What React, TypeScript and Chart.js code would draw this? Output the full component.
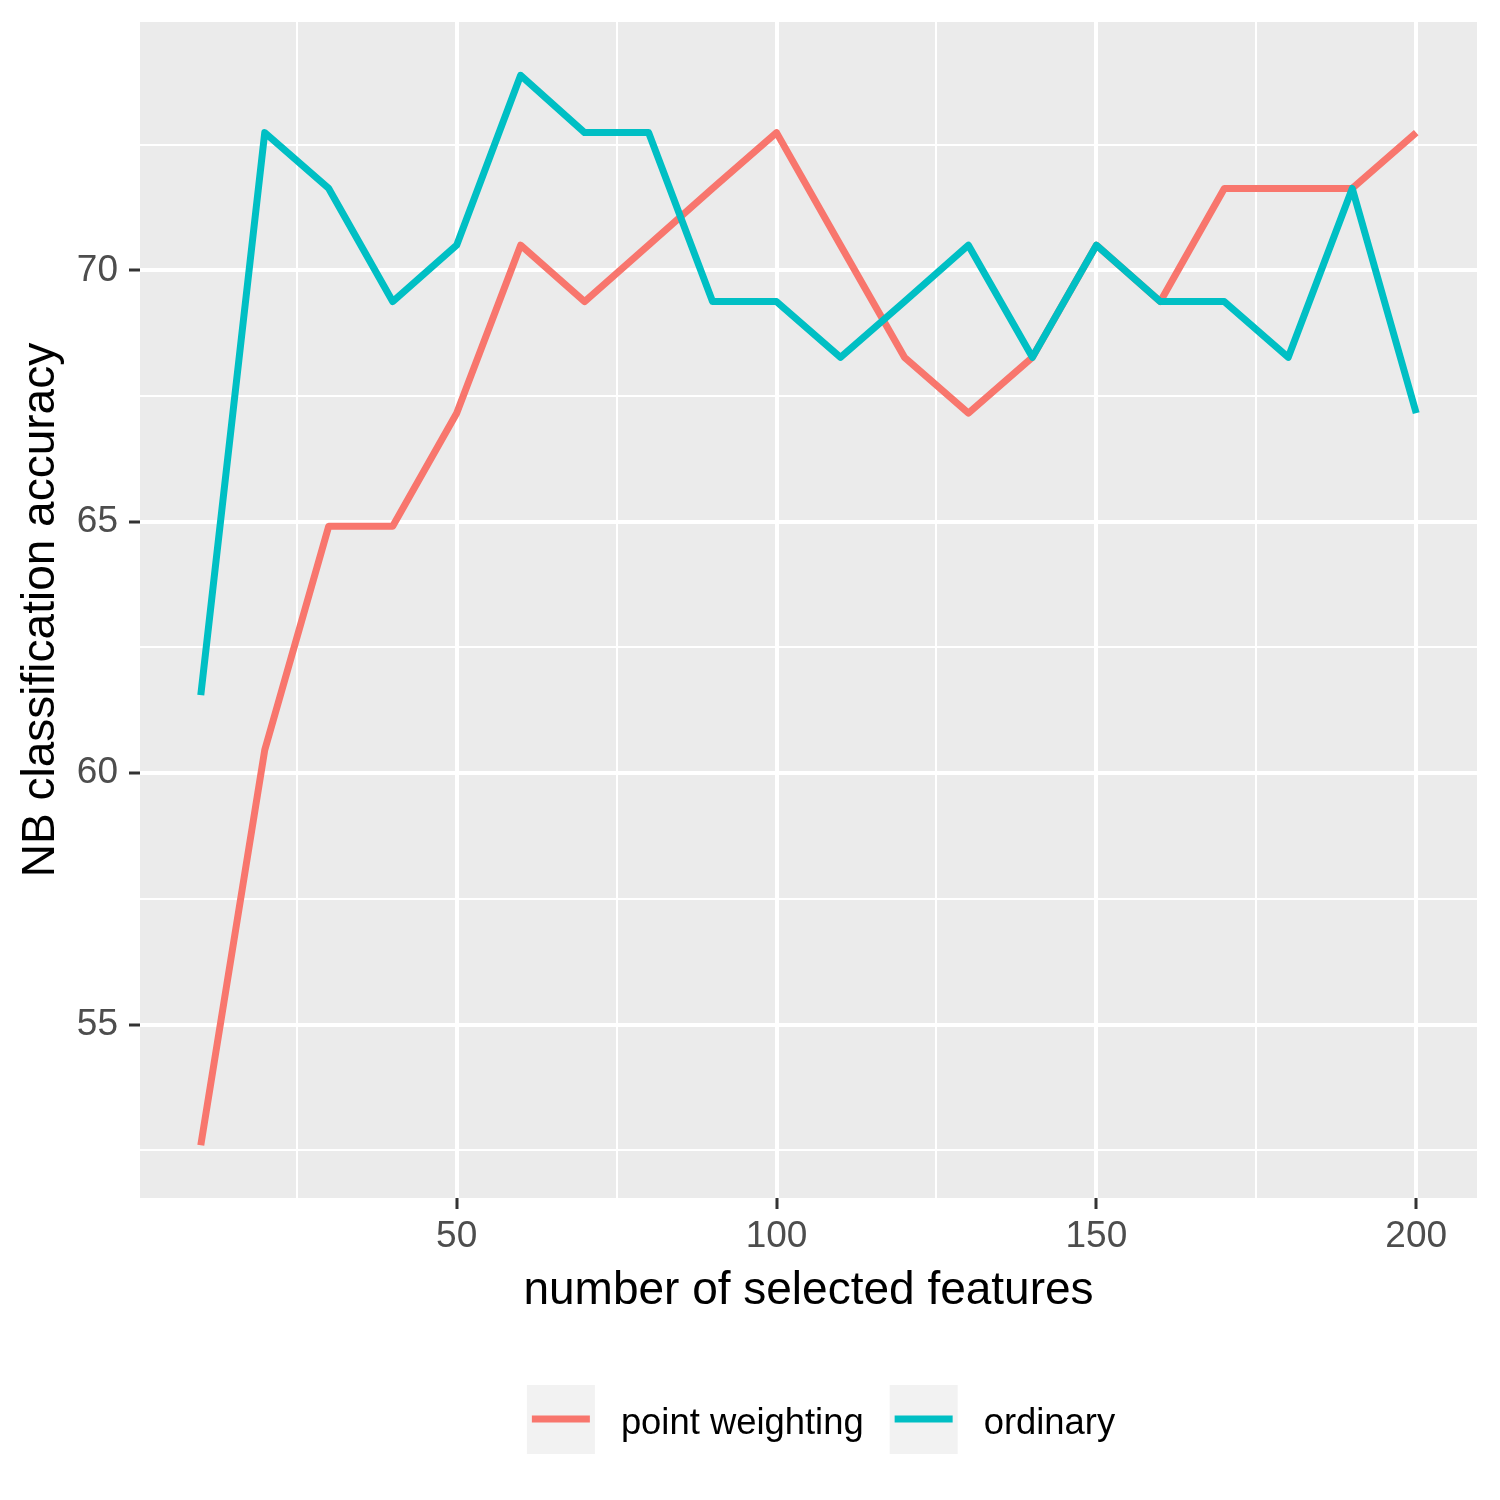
import React, { useEffect, useRef } from "react";
import { Chart, registerables } from "chart.js";

Chart.register(...registerables);

const features = [10, 20, 30, 40, 50, 60, 70, 80, 90, 100, 110, 120, 130, 140, 150, 160, 170, 180, 190, 200];
const pointWeighting = [52.6, 60.46, 64.91, 64.91, 67.16, 70.5, 69.38, 70.5, 71.63, 72.74, 70.5, 68.27, 67.16, 68.27, 70.5, 69.38, 71.63, 71.63, 71.63, 72.74];
const ordinary = [61.55, 72.74, 71.63, 69.38, 70.5, 73.88, 72.74, 72.74, 69.38, 69.38, 68.27, 69.38, 70.5, 68.27, 70.5, 69.38, 69.38, 68.27, 71.63, 67.16];

const seriesLabels = ["point weighting", "ordinary"];
const seriesColors = ["#F8766D", "#00BFC4"];

const xMajorTicks = [50, 100, 150, 200];
const xMinorTicks = [25, 75, 125, 175];
const yMajorTicks = [55, 60, 65, 70];
const yMinorTicks = [52.5, 57.5, 62.5, 67.5, 72.5];

const xTitle = "number of selected features";
const yTitle = "NB classification accuracy";

const FONT = "'Liberation Sans', Arial, sans-serif";

const panelBg = {
  id: "panelBg",
  beforeDraw(chart: any) {
    const { ctx, chartArea } = chart;
    ctx.save();
    ctx.fillStyle = "#EBEBEB";
    ctx.fillRect(chartArea.left, chartArea.top, chartArea.right - chartArea.left, chartArea.bottom - chartArea.top);
    ctx.restore();
  },
};

const ggLegend = {
  id: "ggLegend",
  afterDraw(chart: any) {
    const { ctx } = chart;
    const ds = chart.data.datasets;
    const key = 68;
    const gap = 26;
    const top = 1385;
    ctx.save();
    ctx.font = `36.4px ${FONT}`;
    const widths = ds.map((d: any) => ctx.measureText(d.label).width);
    let total = 0;
    widths.forEach((w: number, i: number) => {
      total += key + gap + w + (i < widths.length - 1 ? gap : 0);
    });
    let x = 821 - total / 2;
    ds.forEach((d: any, i: number) => {
      ctx.fillStyle = "#F2F2F2";
      ctx.fillRect(x, top, key, key + 1);
      ctx.strokeStyle = d.borderColor;
      ctx.lineWidth = 7;
      ctx.lineCap = "butt";
      ctx.beginPath();
      ctx.moveTo(x + 5, top + key / 2);
      ctx.lineTo(x + key - 5, top + key / 2);
      ctx.stroke();
      ctx.fillStyle = "#000000";
      ctx.textAlign = "left";
      ctx.textBaseline = "alphabetic";
      ctx.fillText(d.label, x + key + gap, 1433.5);
      x += key + gap + widths[i] + gap;
    });
    ctx.restore();
  },
};

export default function App() {
  const ref = useRef<HTMLCanvasElement | null>(null);

  useEffect(() => {
    document.body.style.margin = "0";
    const canvas = ref.current;
    if (!canvas) return;
    const xTicksAll = [...xMinorTicks, ...xMajorTicks].sort((a, b) => a - b);
    const yTicksAll = [...yMinorTicks, ...yMajorTicks].sort((a, b) => a - b);

    const chart = new Chart(canvas, {
      type: "line",
      data: {
        datasets: [
          {
            label: seriesLabels[0],
            data: features.map((f, i) => ({ x: f, y: pointWeighting[i] })),
            borderColor: seriesColors[0],
            backgroundColor: seriesColors[0],
            borderWidth: 7,
            pointRadius: 0,
            tension: 0,
            borderJoinStyle: "round",
            borderCapStyle: "butt",
            fill: false,
            order: 1,
          },
          {
            label: seriesLabels[1],
            data: features.map((f, i) => ({ x: f, y: ordinary[i] })),
            borderColor: seriesColors[1],
            backgroundColor: seriesColors[1],
            borderWidth: 7,
            pointRadius: 0,
            tension: 0,
            borderJoinStyle: "round",
            borderCapStyle: "butt",
            fill: false,
            order: 0,
          },
        ],
      },
      options: {
        animation: false,
        responsive: false,
        devicePixelRatio: 1,
        layout: { padding: { top: 22, right: 23, left: 0, bottom: 0 } },
        plugins: {
          legend: { display: false },
          tooltip: { enabled: false },
        },
        scales: {
          x: {
            type: "linear",
            position: "bottom",
            min: 0.5,
            max: 209.5,
            border: { display: false },
            afterBuildTicks: (scale: any) => {
              scale.ticks = xTicksAll.map((v) => ({ value: v }));
            },
            afterFit: (scale: any) => {
              scale.height = 302;
              scale.paddingLeft = 0;
              scale.paddingRight = 0;
              scale.paddingTop = 0;
              scale.paddingBottom = 0;
            },
            grid: {
              color: "#FFFFFF",
              lineWidth: (c: any) => (xMajorTicks.includes(c.tick?.value) ? 4 : 2),
              tickColor: (c: any) => (xMajorTicks.includes(c.tick?.value) ? "#333333" : "rgba(0,0,0,0)"),
              tickWidth: 3,
              tickLength: 11,
              drawTicks: true,
            },
            ticks: {
              autoSkip: false,
              maxRotation: 0,
              minRotation: 0,
              padding: 6,
              color: "#4D4D4D",
              font: { family: FONT, size: 37 },
              callback: (v: any) => (xMajorTicks.includes(v) ? String(v) : ""),
            },
            title: {
              display: true,
              text: xTitle,
              color: "#000000",
              font: { family: FONT, size: 46, lineHeight: 1.2 },
              padding: { top: 0, bottom: 181 },
            },
          },
          y: {
            type: "linear",
            position: "left",
            min: 51.55,
            max: 74.94,
            border: { display: false },
            afterBuildTicks: (scale: any) => {
              scale.ticks = yTicksAll.map((v) => ({ value: v }));
            },
            afterFit: (scale: any) => {
              scale.width = 140;
              scale.paddingLeft = 0;
              scale.paddingRight = 0;
              scale.paddingTop = 0;
              scale.paddingBottom = 0;
            },
            grid: {
              color: "#FFFFFF",
              lineWidth: (c: any) => (yMajorTicks.includes(c.tick?.value) ? 4 : 2),
              tickColor: (c: any) => (yMajorTicks.includes(c.tick?.value) ? "#333333" : "rgba(0,0,0,0)"),
              tickWidth: 3,
              tickLength: 11,
              drawTicks: true,
            },
            ticks: {
              autoSkip: false,
              padding: 11,
              color: "#4D4D4D",
              font: { family: FONT, size: 37 },
              callback: (v: any) => (yMajorTicks.includes(v) ? String(v) : ""),
            },
            title: {
              display: true,
              text: yTitle,
              color: "#000000",
              font: { family: FONT, size: 46, lineHeight: 1.2 },
              padding: { top: 14, bottom: 0 },
            },
          },
        },
      },
      plugins: [panelBg, ggLegend],
    } as any);

    return () => chart.destroy();
  }, []);

  return (
    <div style={{ width: 1500, height: 1500, background: "#FFFFFF" }}>
      <canvas ref={ref} width={1500} height={1500} style={{ display: "block", width: 1500, height: 1500 }} />
    </div>
  );
}
